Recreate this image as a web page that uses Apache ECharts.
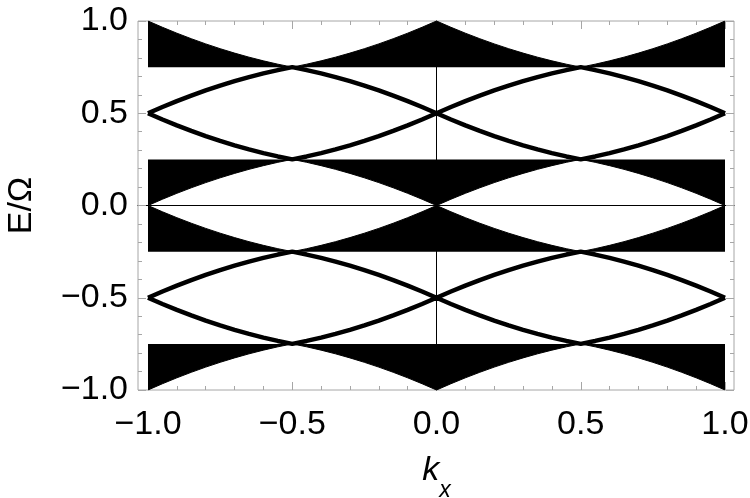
<!DOCTYPE html>
<html>
<head>
<meta charset="utf-8">
<script src="https://cdn.jsdelivr.net/npm/echarts@6/dist/echarts.min.js"></script>
<style>
  html, body { margin: 0; background: #fff; }
  #chart { width: 750px; height: 498px; }
</style>
</head>
<body>
<div id="chart"></div>
<script>
// k_x samples
const kx = [-1.00, -0.95, -0.90, -0.85, -0.80, -0.75, -0.70, -0.65, -0.60, -0.55, -0.50,
  -0.45, -0.40, -0.35, -0.30, -0.25, -0.20, -0.15, -0.10, -0.05, 0.00,
  0.05, 0.10, 0.15, 0.20, 0.25, 0.30, 0.35, 0.40, 0.45, 0.50,
  0.55, 0.60, 0.65, 0.70, 0.75, 0.80, 0.85, 0.90, 0.95, 1.00]

// upper edge of the top band (filled down to 0.75)
const bandTopEdge = [1, .966, .934, .904, .876, .85, .826, .804, .784, .766, .75,
  .766, .784, .804, .826, .85, .876, .904, .934, .966, 1,
  .966, .934, .904, .876, .85, .826, .804, .784, .766, .75,
  .766, .784, .804, .826, .85, .876, .904, .934, .966, 1]

// lens around E = 0.5
const lensUpperHi = [.5, .534, .566, .596, .624, .65, .674, .696, .716, .734, .75,
  .734, .716, .696, .674, .65, .624, .596, .566, .534, .5,
  .534, .566, .596, .624, .65, .674, .696, .716, .734, .75,
  .734, .716, .696, .674, .65, .624, .596, .566, .534, .5]
const lensUpperLo = [.5, .466, .434, .404, .376, .35, .326, .304, .284, .266, .25,
  .266, .284, .304, .326, .35, .376, .404, .434, .466, .5,
  .466, .434, .404, .376, .35, .326, .304, .284, .266, .25,
  .266, .284, .304, .326, .35, .376, .404, .434, .466, .5]

// white gap inside the middle band (black between gap edge and +-0.25)
const gapHi = [0, .034, .066, .096, .124, .15, .174, .196, .216, .234, .25,
  .234, .216, .196, .174, .15, .124, .096, .066, .034, 0,
  .034, .066, .096, .124, .15, .174, .196, .216, .234, .25,
  .234, .216, .196, .174, .15, .124, .096, .066, .034, 0]
const gapLo = [0, -.034, -.066, -.096, -.124, -.15, -.174, -.196, -.216, -.234, -.25,
  -.234, -.216, -.196, -.174, -.15, -.124, -.096, -.066, -.034, 0,
  -.034, -.066, -.096, -.124, -.15, -.174, -.196, -.216, -.234, -.25,
  -.234, -.216, -.196, -.174, -.15, -.124, -.096, -.066, -.034, 0]

// lens around E = -0.5
const lensLowerHi = [-.5, -.466, -.434, -.404, -.376, -.35, -.326, -.304, -.284, -.266, -.25,
  -.266, -.284, -.304, -.326, -.35, -.376, -.404, -.434, -.466, -.5,
  -.466, -.434, -.404, -.376, -.35, -.326, -.304, -.284, -.266, -.25,
  -.266, -.284, -.304, -.326, -.35, -.376, -.404, -.434, -.466, -.5]
const lensLowerLo = [-.5, -.534, -.566, -.596, -.624, -.65, -.674, -.696, -.716, -.734, -.75,
  -.734, -.716, -.696, -.674, -.65, -.624, -.596, -.566, -.534, -.5,
  -.534, -.566, -.596, -.624, -.65, -.674, -.696, -.716, -.734, -.75,
  -.734, -.716, -.696, -.674, -.65, -.624, -.596, -.566, -.534, -.5]

// lower edge of the bottom band (filled up to -0.75)
const bandBottomEdge = [-1, -.966, -.934, -.904, -.876, -.85, -.826, -.804, -.784, -.766, -.75,
  -.766, -.784, -.804, -.826, -.85, -.876, -.904, -.934, -.966, -1,
  -.966, -.934, -.904, -.876, -.85, -.826, -.804, -.784, -.766, -.75,
  -.766, -.784, -.804, -.826, -.85, -.876, -.904, -.934, -.966, -1]

// flat band edges: top, middle-top, middle-bottom, bottom
const bandLevels = [0.75, 0.25, -0.25, -0.75]

const FRAME = '#a6a6a6'
const FONT = '"Liberation Sans", Arial, sans-serif'

function pts(ys) {
  return kx.map((x, i) => [x, ys[i]])
}
function fmt(v) {
  return v < 0 ? '\u2212' + (-v).toFixed(1) : v.toFixed(1)
}
function band(ys, origin) {
  return {
    type: 'line',
    data: pts(ys),
    symbol: 'none',
    silent: true,
    lineStyle: { color: '#000', width: 1 },
    areaStyle: { color: '#000', opacity: 1, origin: origin }
  }
}
function lens(ys) {
  return {
    type: 'line',
    data: pts(ys),
    symbol: 'none',
    silent: true,
    lineStyle: { color: '#000', width: 4.5 }
  }
}

const tickAxis = {
  gridIndex: 0,
  type: 'value',
  min: -1,
  max: 1,
  interval: 0.5,
  axisLine: { show: false, onZero: false },
  axisTick: { show: true, inside: true, length: 8, lineStyle: { color: FRAME } },
  minorTick: { show: true, splitNumber: 5, length: 4, lineStyle: { color: FRAME } },
  splitLine: { show: false }
}
const label = {
  formatter: fmt,
  fontSize: 34,
  color: '#000',
  fontFamily: FONT,
  showMinLabel: true,
  showMaxLabel: true
}
const originAxis = {
  gridIndex: 1,
  type: 'value',
  axisLine: { show: true, onZero: true, lineStyle: { color: '#000', width: 1 } },
  axisTick: { show: false },
  axisLabel: { show: false },
  splitLine: { show: false }
}

const chart = echarts.init(document.getElementById('chart'))
chart.setOption({
  animation: false,
  backgroundColor: '#fff',
  grid: [
    { left: 148, right: 25, top: 21, bottom: 108, containLabel: false, outerBoundsMode: 'none' },
    { left: 138, right: 16, top: 21, bottom: 108, containLabel: false, outerBoundsMode: 'none',
      show: true, borderColor: FRAME, borderWidth: 1, backgroundColor: 'transparent' }
  ],
  xAxis: [
    Object.assign({}, tickAxis, {
      position: 'bottom',
      axisLabel: Object.assign({}, label, { margin: 18 }),
      name: '{k|k}{s|x}',
      nameLocation: 'middle',
      nameGap: 64,
      nameTextStyle: {
        rich: {
          k: { fontSize: 34, fontStyle: 'italic', fontFamily: FONT, color: '#000', lineHeight: 48, verticalAlign: 'top' },
          s: { fontSize: 23, fontStyle: 'italic', fontFamily: FONT, color: '#000', lineHeight: 23, verticalAlign: 'bottom' }
        }
      }
    }),
    Object.assign({}, tickAxis, { position: 'top', axisLabel: { show: false } }),
    Object.assign({}, originAxis, { min: -1.035, max: 1.035 })
  ],
  yAxis: [
    Object.assign({}, tickAxis, {
      position: 'left',
      offset: 10,
      axisLabel: Object.assign({}, label, { margin: 10 }),
      name: 'E/\u03a9',
      nameLocation: 'middle',
      nameRotate: 90,
      nameGap: 99,
      nameTextStyle: { fontSize: 34, fontFamily: FONT, color: '#000' }
    }),
    Object.assign({}, tickAxis, { position: 'right', offset: 9, axisLabel: { show: false } }),
    Object.assign({}, originAxis, { min: -1, max: 1 })
  ],
  series: [
    band(bandTopEdge, bandLevels[0]),
    band(gapHi, bandLevels[1]),
    band(gapLo, bandLevels[2]),
    band(bandBottomEdge, bandLevels[3]),
    lens(lensUpperHi),
    lens(lensUpperLo),
    lens(lensLowerHi),
    lens(lensLowerLo)
  ]
})
</script>
</body>
</html>
